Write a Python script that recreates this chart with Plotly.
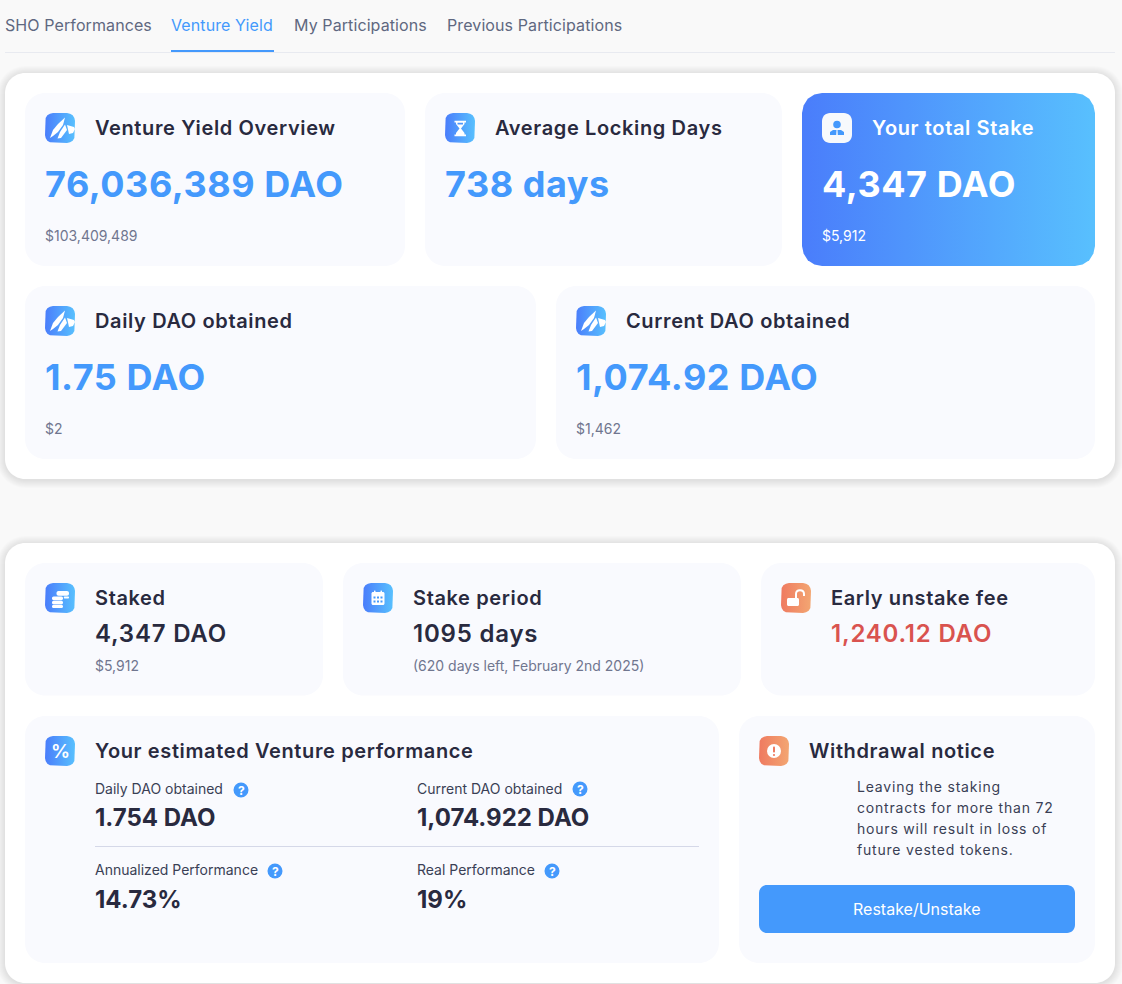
#!/usr/bin/env python3
# -*- coding: utf-8 -*-
import plotly.graph_objects as go

# Texts
#%%
tabs = ['SHO Performances', 'Venture Yield', 'My Participations', 'Previous Participations']

top_titles = ['Venture Yield Overview', 'Average Locking Days', 'Your total Stake',
              'Daily DAO obtained', 'Current DAO obtained']
top_values = ['76,036,389 DAO', '738 days', '4,347 DAO', '1.75 DAO', '1,074.92 DAO']
top_usd = ['$103,409,489', '', '$5,912', '$2', '$1,462']

stake_titles = ['Staked', 'Stake period', 'Early unstake fee']
stake_values = ['4,347 DAO', '1095 days', '1,240.12 DAO']
stake_notes = ['$5,912', '(620 days left, February 2nd 2025)', '']

perf_title = 'Your estimated Venture performance'
perf_labels = ['Daily DAO obtained', 'Current DAO obtained', 'Annualized Performance', 'Real Performance']
perf_values = ['1.754 DAO', '1,074.922 DAO', '14.73%', '19%']

notice_title = 'Withdrawal notice'
notice_lines = ['Leaving the staking', 'contracts for more than 72',
                'hours will result in loss of', 'future vested tokens.']
button_label = 'Restake/Unstake'

# Colours
#%%
BG = '#f9f9f9'
CARD = '#f9fafe'
BLUE = '#4499fc'
DARK = '#292a3f'
GREY = '#70768f'
TAB = '#5f6880'
RED = '#d9534f'
BLUE_GRAD = ['#4a7dfb', '#58c0fe']
ORANGE_GRAD = ['#ef7a60', '#f3a672']
FONT = 'Inter'

shapes = []
annotations = []
traces = []


def rr_path(x0, y0, x1, y1, r):
    k = r * 0.45
    return (f'M{x0+r},{y0} L{x1-r},{y0} C{x1-k},{y0} {x1},{y0+k} {x1},{y0+r} '
            f'L{x1},{y1-r} C{x1},{y1-k} {x1-k},{y1} {x1-r},{y1} '
            f'L{x0+r},{y1} C{x0+k},{y1} {x0},{y1-k} {x0},{y1-r} '
            f'L{x0},{y0+r} C{x0},{y0+k} {x0+k},{y0} {x0+r},{y0} Z')


def rect(x0, y0, x1, y1, r, color, opacity=1, layer='below'):
    shapes.append(dict(type='path', path=rr_path(x0, y0, x1, y1, r), fillcolor=color,
                       line=dict(width=0), opacity=opacity, layer=layer))


def poly(points, color, layer='above'):
    path = 'M' + ' L'.join(f'{x},{y}' for x, y in points) + ' Z'
    shapes.append(dict(type='path', path=path, fillcolor=color, line=dict(width=0), layer=layer))


def circle(cx, cy, r, color, layer='above'):
    shapes.append(dict(type='circle', x0=cx-r, y0=cy-r, x1=cx+r, y1=cy+r, fillcolor=color,
                       line=dict(width=0), layer=layer))


def grad_rect(x0, y0, x1, y1, r, colors):
    # rounded rectangle as a filled trace, shapes can't do gradients
    cos_sin = [(0, -1), (0.38, -0.92), (0.71, -0.71), (0.92, -0.38), (1, 0)]
    xs, ys = [], []
    for cx, cy, sx, sy, flip in [(x1-r, y0+r, 1, 1, False), (x1-r, y1-r, 1, -1, True),
                                 (x0+r, y1-r, -1, -1, False), (x0+r, y0+r, -1, 1, True)]:
        for c, s in (cos_sin[::-1] if flip else cos_sin):
            xs.append(cx + sx * r * c)
            ys.append(cy + sy * r * s)
    xs.append(xs[0])
    ys.append(ys[0])
    traces.append(go.Scatter(x=xs, y=ys, mode='lines', line=dict(width=0), fill='toself',
                             fillgradient=dict(type='horizontal',
                                               colorscale=[[0, colors[0]], [1, colors[1]]]),
                             hoverinfo='skip', showlegend=False))


def text(x, y, s, size, color, weight=400, anchor='left', spacing=0):
    if s == '':
        return
    if spacing:
        s = f'<span style="letter-spacing:{spacing}px">{s}</span>'
    # left anchored annotations land 1px to the right
    annotations.append(dict(x=x-1 if anchor == 'left' else x, y=y, text=s, showarrow=False,
                            xanchor=anchor, yanchor='middle', align=anchor, borderpad=0,
                            font=dict(family=FONT, size=size, color=color, weight=weight)))


def panel(x0, y0, x1, y1):
    for i in range(8, 0, -1):
        rect(x0-i, y0-i+1, x1+i, y1+i+1, 20+i, '#000000', opacity=0.012)
    rect(x0, y0, x1, y1, 20, '#ffffff')


# Icons
#%%
def icon_logo(x, y):
    grad_rect(x, y, x+30, y+30, 8, BLUE_GRAD)
    poly([(x+5, y+25), (x+8, y+17), (x+13, y+11), (x+20, y+4.5), (x+18, y+12), (x+13, y+19), (x+8, y+23)], '#ffffff')
    poly([(x+12.5, y+25.5), (x+15, y+19), (x+20, y+11.5), (x+22, y+17), (x+19, y+21), (x+16, y+25)], '#ffffff')
    poly([(x+22, y+12), (x+29, y+14), (x+30, y+16), (x+28, y+20), (x+24, y+21)], '#ffffff')


def icon_hourglass(x, y):
    grad_rect(x, y, x+30, y+30, 8, BLUE_GRAD)
    poly([(x+9.5, y+7.7), (x+21, y+7.7), (x+21, y+9.5), (x+19.5, y+9.5), (x+19.5, y+11), (x+16, y+15.5),
          (x+19.5, y+20), (x+19.5, y+21.5), (x+21, y+21.5), (x+21, y+23.3), (x+9.5, y+23.3), (x+9.5, y+21.5),
          (x+11, y+21.5), (x+11, y+20), (x+14.5, y+15.5), (x+11, y+11), (x+11, y+9.5), (x+9.5, y+9.5)], '#ffffff')
    rect(x+12.5, y+9.8, x+18, y+11.5, 0.3, '#5098fc', layer='above')


def icon_user(x, y):
    rect(x, y, x+30, y+30, 8, '#f7f9fc', layer='above')
    circle(x+15, y+11.5, 3.8, BLUE)
    poly([(x+8, y+22), (x+8, y+19), (x+11, y+17), (x+19, y+17), (x+22, y+19), (x+22, y+22)], BLUE)
    poly([(x+14.5, y+17), (x+15.5, y+17), (x+15.8, y+22), (x+14.2, y+22)], '#f7f9fc')


def icon_coins(x, y):
    grad_rect(x, y, x+30, y+30, 8, BLUE_GRAD)
    for y0, y1 in [(13.5, 17.2), (17.8, 21.3), (21.8, 25)]:
        rect(x+7, y+y0, x+18, y+y1, 1.6, '#ffffff', layer='above')
    rect(x+11.5, y+8, x+24, y+12.8, 2, '#ffffff', layer='above')
    rect(x+18.8, y+13.4, x+24, y+15.6, 1, '#ffffff', layer='above')


def icon_calendar(x, y):
    grad_rect(x, y, x+30, y+30, 8, BLUE_GRAD)
    rect(x+8.5, y+9, x+21.5, y+22, 1.5, '#ffffff', layer='above')
    rect(x+11, y+7.5, x+12.5, y+10, 0.5, '#ffffff', layer='above')
    rect(x+17.5, y+7.5, x+19, y+10, 0.5, '#ffffff', layer='above')
    for yy in (13.5, 17.5):
        for xx in (10.5, 14, 17.5):
            rect(x+xx, y+yy, x+xx+2, y+yy+2, 0.3, BLUE, layer='above')


def icon_lock(x, y):
    grad_rect(x, y, x+30, y+30, 8, ORANGE_GRAD)
    rect(x+6, y+15, x+18, y+23, 1.5, '#ffffff', layer='above')
    shapes.append(dict(type='path', path=f'M{x+15},{y+15} L{x+15},{y+11} C{x+15},{y+6} {x+23},{y+6} {x+23},{y+11} L{x+23},{y+13}',
                       line=dict(color='#ffffff', width=2), layer='above'))


def icon_percent(x, y):
    grad_rect(x, y, x+30, y+30, 8, BLUE_GRAD)
    text(x+15, y+15.5, '%', 19, '#ffffff', 600, 'center')


def icon_warn(x, y):
    grad_rect(x, y, x+30, y+30, 8, ORANGE_GRAD)
    circle(x+15, y+15, 7, '#ffffff')
    rect(x+14, y+10.5, x+16, y+16.5, 0.8, '#ef7a60', layer='above')
    circle(x+15, y+19, 1.1, '#ef7a60')


def help_dot(cx, cy):
    circle(cx, cy, 7.5, BLUE)
    text(cx, cy, '?', 12, '#ffffff', 700, 'center')


# Header
#%%
tab_x = [5, 171, 294, 447]
for i in range(len(tabs)):
    text(tab_x[i], 25, tabs[i], 16, BLUE if i == 1 else TAB, 400, spacing=0.1)
shapes.append(dict(type='rect', x0=5, x1=1115, y0=52, y1=53, fillcolor='#e8eaf0', line=dict(width=0), layer='below'))
shapes.append(dict(type='rect', x0=171, x1=274, y0=50, y1=52, fillcolor=BLUE, line=dict(width=0), layer='below'))

# First panel
#%%
panel(5, 73, 1115, 479)
top_cards = [(25, 93, 405, 266), (425, 93, 782, 266), (802, 93, 1095, 266),
             (25, 286, 536, 459), (556, 286, 1095, 459)]
top_icons = [icon_logo, icon_hourglass, icon_user, icon_logo, icon_logo]
for i, (x0, y0, x1, y1) in enumerate(top_cards):
    light = i == 2
    if light:
        grad_rect(x0, y0, x1, y1, 20, BLUE_GRAD)
    else:
        rect(x0, y0, x1, y1, 20, CARD)
    top_icons[i](x0+20, y0+20)
    text(x0+70, y0+35, top_titles[i], 20, '#ffffff' if light else DARK, 600, spacing=0.63)
    text(x0+20, y0+91, top_values[i], 36, '#ffffff' if light else BLUE, 700, spacing=0.55)
    text(x0+20, y0+142.5, top_usd[i], 14, '#ffffff' if light else GREY)

# Second panel
#%%
panel(5, 543, 1115, 983)
stake_cards = [(25, 563, 323, 695.5), (343, 563, 741, 695.5), (761, 563, 1095, 695.5)]
stake_icons = [icon_coins, icon_calendar, icon_lock]
for i, (x0, y0, x1, y1) in enumerate(stake_cards):
    rect(x0, y0, x1, y1, 20, CARD)
    stake_icons[i](x0+20, y0+20)
    text(x0+70, y0+35, stake_titles[i], 20, DARK, 600, spacing=0.63)
    text(x0+70, y0+70.5, stake_values[i], 24, RED if i == 2 else DARK, 600, spacing=0.8)
    text(x0+70, y0+102.5, stake_notes[i], 14, GREY)

rect(25, 716, 719, 963, 20, CARD)
icon_percent(45, 736)
text(95, 751, perf_title, 20, DARK, 600, spacing=0.63)
perf_pos = [(95, 788.5, 817), (417, 788.5, 817), (95, 869.5, 899), (417, 869.5, 899)]
help_pos = [(241, 790), (580, 789), (275, 871), (552, 871)]
for i, (x, y_label, y_value) in enumerate(perf_pos):
    text(x, y_label, perf_labels[i], 14, '#3a3f55')
    text(x, y_value, perf_values[i], 24, DARK, 700)
    help_dot(*help_pos[i])
shapes.append(dict(type='rect', x0=95, x1=699, y0=846, y1=847, fillcolor='#d5d8e8', line=dict(width=0), layer='below'))

rect(739, 716, 1095, 963, 20, CARD)
icon_warn(759, 736)
text(809, 751, notice_title, 20, DARK, 600, spacing=0.63)
for i, y in enumerate([786.5, 807.5, 828.5, 849.5]):
    text(857, y, notice_lines[i], 14, '#3a3f55', spacing=0.8)
rect(759, 885, 1075, 933, 8, BLUE)
text(917, 909, button_label, 16, '#ffffff', 400, 'center')

fig = go.Figure(traces)
fig.update_layout(width=1122, height=984, margin=dict(l=0, r=0, t=0, b=0),
                  paper_bgcolor=BG, plot_bgcolor=BG, showlegend=False,
                  shapes=shapes, annotations=annotations,
                  xaxis=dict(range=[0, 1122], visible=False, fixedrange=True),
                  yaxis=dict(range=[984, 0], visible=False, fixedrange=True))
fig.write_html("out.html", config=dict(displayModeBar=False),
               post_script="document.body.style.margin='0';")
